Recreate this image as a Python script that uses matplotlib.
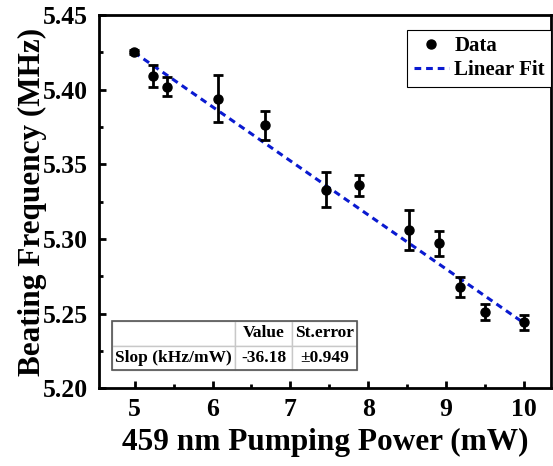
import matplotlib
matplotlib.use("Agg")
import matplotlib.pyplot as plt
from matplotlib.ticker import MultipleLocator, FormatStrFormatter
from matplotlib.lines import Line2D
from matplotlib.patches import Rectangle
import numpy as np

# Data
power_mw = [4.99, 5.24, 5.42, 6.07, 6.68, 7.46, 7.88, 8.53, 8.91, 9.18, 9.50, 10.00]
freq_mhz = [5.425, 5.409, 5.402, 5.394, 5.376, 5.333, 5.336, 5.306, 5.297, 5.268, 5.251, 5.244]
freq_err = [0.0012, 0.0074, 0.0064, 0.0155, 0.0098, 0.0117, 0.0071, 0.0136, 0.0086, 0.0066, 0.0053, 0.0048]

fit_slope = -0.03618      # MHz/mW
fit_intercept = 5.6055    # MHz
fit_range = [4.99, 10.00]

table_cols = ["", "Value", "St.error"]
table_row = ["Slop (kHz/mW)", "-36.18", "\u00b10.949"]

plt.rcParams['font.family'] = ['Liberation Serif', 'DejaVu Serif']
plt.rcParams['font.weight'] = 'bold'

fig = plt.figure(figsize=(5.53, 4.66), dpi=100)
ax = fig.add_axes([0.179, 0.167, 0.8174, 0.801])

fit_color = '#0a1ad0'
fx = np.array(fit_range)
ax.plot(fx, fit_slope * fx + fit_intercept, color=fit_color, lw=2.2,
        linestyle=(0, (2.2, 1.6)), zorder=2)
ax.errorbar(power_mw, freq_mhz, yerr=freq_err, fmt='o', color='black',
            ms=6.5, elinewidth=2, capsize=3.5, capthick=2, zorder=3)

ax.set_xlim(4.54, 10.35)
ax.set_ylim(5.20, 5.45)
ax.xaxis.set_major_locator(MultipleLocator(1))
ax.xaxis.set_minor_locator(MultipleLocator(0.5))
ax.yaxis.set_major_locator(MultipleLocator(0.05))
ax.yaxis.set_minor_locator(MultipleLocator(0.025))
ax.yaxis.set_major_formatter(FormatStrFormatter('%.2f'))
ax.tick_params(which='both', direction='in', width=2, labelsize=18.5)
ax.tick_params(which='major', length=5)
ax.tick_params(which='minor', length=3)
ax.tick_params(axis='x', pad=7)
ax.tick_params(axis='y', pad=8)
for s in ax.spines.values():
    s.set_linewidth(2)
for lab in ax.get_xticklabels() + ax.get_yticklabels():
    lab.set_fontweight('bold')

ax.set_xlabel('459 nm Pumping Power (mW)', fontsize=22.5, fontweight='bold', labelpad=5)
ax.set_ylabel('Beating Frequency (MHz)', fontsize=22.5, fontweight='bold', labelpad=-3)

h_data = Line2D([], [], marker='o', color='black', linestyle='none', ms=6.5)
h_fit = Line2D([], [], color=fit_color, lw=2.2, linestyle=(0, (2.2, 1.6)))
leg = ax.legend([h_data, h_fit], ['Data', 'Linear Fit'],
                loc='upper right', bbox_to_anchor=(1.0, 0.96), fancybox=False,
                edgecolor='black', framealpha=1,
                prop={'weight': 'bold', 'size': 15}, handlelength=1.7,
                borderaxespad=0.0, handletextpad=0.25, borderpad=0.3,
                labelspacing=0.2)
leg.get_frame().set_linewidth(0.8)

tbl_box = [0.029, 0.048, 0.542, 0.132]
tbl = ax.table(cellText=[table_row], colLabels=table_cols,
               colWidths=[123, 57, 65], cellLoc='center',
               bbox=tbl_box)
tbl.auto_set_font_size(False)
for (r, c), cell in tbl.get_celld().items():
    cell.set_edgecolor('#c8c8c8')
    cell.set_linewidth(1.0)
    cell.get_text().set_fontsize(12.5)
    cell.get_text().set_fontweight('bold')
    cell.PAD = 0.04
    if c == 0:
        cell._loc = 'left'
    if r == 1 and c == 1:
        cell._loc = 'right'
    if c == 2:
        cell._loc = 'left'
ax.add_patch(Rectangle((tbl_box[0], tbl_box[1]), tbl_box[2], tbl_box[3],
                       transform=ax.transAxes, fill=False, edgecolor='#555555',
                       lw=1.2, zorder=10))

fig.savefig('out.png', dpi=100)
